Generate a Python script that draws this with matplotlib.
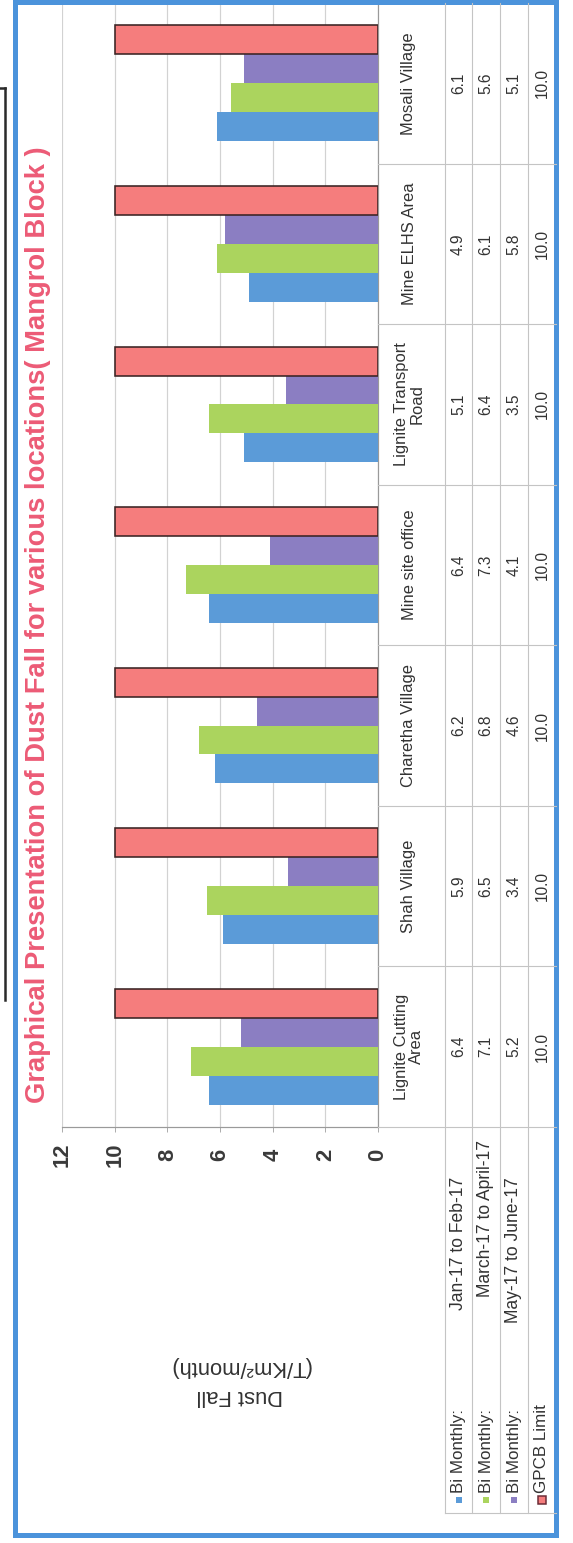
import matplotlib as mpl
mpl.use('agg')
import matplotlib.pyplot as plt
import numpy as np
from matplotlib.patches import Rectangle

plt.rcParams['font.family'] = ['Liberation Sans', 'DejaVu Sans']

# dust fall data (T/Km2/month) per monitoring location
locations = ['Lignite Cutting\nArea', 'Shah Village', 'Charetha Village', 'Mine site office',
             'Lignite Transport\nRoad', 'Mine ELHS Area', 'Mosali Village']
jan_feb = [6.4, 5.9, 6.2, 6.4, 5.1, 4.9, 6.1]
mar_apr = [7.1, 6.5, 6.8, 7.3, 6.4, 6.1, 5.6]
may_jun = [5.2, 3.4, 4.6, 4.1, 3.5, 5.8, 5.1]
gpcb_limit = [10.0, 10.0, 10.0, 10.0, 10.0, 10.0, 10.0]

row_names = ['Bi Monthly:', 'Bi Monthly:', 'Bi Monthly:', 'GPCB Limit']
row_periods = ['Jan-17 to Feb-17', 'March-17 to April-17', 'May-17 to June-17', '']
value_ticks = [0, 2, 4, 6, 8, 10, 12]

series = [jan_feb, mar_apr, may_jun, gpcb_limit]
colors = ['#5b9bd8', '#abd45e', '#8b7ec2', '#f57d7d']

# page is laid out sideways, so work in pixels
W, H = 573, 1543
DPI = 72
fig = plt.figure(figsize=(W / DPI, H / DPI), dpi=DPI)
fig.patch.set_facecolor('white')

x12, x0 = 62, 378          # value axis ends
ytop, ybot = 3, 1127       # category axis ends
rows = [378, 445, 472, 500, 528, 556]
table_bot = 1513
txt = '#333333'
grid = '#d2d2d2'

ax = fig.add_axes([x12 / W, 1 - ybot / H, (x0 - x12) / W, (ybot - ytop) / H])
ax.set_xlim(12, 0)
ax.set_ylim(-0.5, 6.5)

h = 0.18
pos = np.arange(len(locations))
for k, (vals, c) in enumerate(zip(series, colors)):
    if k == 3:
        ax.barh(pos + (k - 1.5) * h, vals, height=h, color=c, edgecolor='#3b2424', linewidth=1.6, zorder=3)
    else:
        ax.barh(pos + (k - 1.5) * h, vals, height=h, color=c, linewidth=0, zorder=3)

ax.set_xticks(value_ticks)
ax.xaxis.grid(True, color=grid, lw=1.2)
ax.set_axisbelow(True)
ax.tick_params(axis='x', direction='out', length=5, color='#9a9a9a', labelsize=22, pad=23, labelcolor='#3a3a3a')
plt.setp(ax.get_xticklabels(), rotation=90, va='center', ha='center', fontweight='bold')

ax.set_yticks(np.arange(-0.5, 7, 1))
ax.yaxis.tick_right()
ax.tick_params(axis='y', direction='out', length=5, color='#9a9a9a', labelright=False)
for s in ['top', 'left']:
    ax.spines[s].set_visible(False)
for s in ['right', 'bottom']:
    ax.spines[s].set_color('#9a9a9a')
    ax.spines[s].set_linewidth(1.2)

ax.set_xlabel('Dust Fall\n(T/Km\u00b2/month)', rotation=180, fontsize=22, color=txt,
              va='center', ha='center', linespacing=1.45)
ax.xaxis.set_label_coords((240 - x12) / (x0 - x12), (ybot - 1381) / (ybot - ytop))

# overlay in page pixels for the data table, frame and title
bg = fig.add_axes([0, 0, 1, 1], zorder=5)
bg.set_xlim(0, W)
bg.set_ylim(H, 0)
bg.axis('off')
bg.patch.set_alpha(0)


def ypix(v):
    return H - ax.transData.transform((0, v))[1]


line = dict(color='#c4c4c4', lw=1.1)
for xr in rows[1:5]:
    bg.plot([xr, xr], [ytop, table_bot], **line)
for b in np.arange(-0.5, 6.5, 1):
    bg.plot([x0, rows[-1]], [ypix(b), ypix(b)], **line)
bg.plot([rows[1], rows[-1]], [table_bot, table_bot], **line)

centers = [(rows[j] + rows[j + 1]) / 2 for j in range(1, 5)]
for i, name in enumerate(locations):
    yc = ypix(i)
    bg.text(409, yc, name, rotation=90, ha='center', va='center', multialignment='center',
            fontsize=16.5, color=txt, linespacing=1.05)
    for j, vals in enumerate(series):
        bg.text(centers[j], yc, f'{vals[i]:.1f}', rotation=90, ha='center', va='center',
                fontsize=15.5, color=txt)

# row headers with legend keys; period text is right-aligned to its own tab stop
period_end = [1177, 1140, 1177, 0]
for j in range(4):
    xc = centers[j]
    if j < 3:
        bg.add_patch(Rectangle((xc - 3, 1497), 6, 6, color=colors[j], lw=0))
    else:
        bg.add_patch(Rectangle((xc - 4, 1496), 8, 8, facecolor=colors[j], edgecolor='#6a2a35', lw=1.5))
    bg.text(xc, 1493, row_names[j], rotation=90, rotation_mode='anchor', ha='left', va='center',
            fontsize=17, color=txt)
    if row_periods[j]:
        bg.text(xc, period_end[j], row_periods[j], rotation=90, rotation_mode='anchor',
                ha='right', va='center', fontsize=17.5, color=txt)

# title
title = bg.text(38, 625, 'Graphical Presentation of Dust Fall for various locations( Mangrol Block )',
                rotation=90, ha='center', va='center', fontsize=20, fontweight='bold', color='#ec5b76')
fig.canvas.draw()
span = title.get_window_extent().height
title.set_fontsize(20 * 955 / span)

# chart border and the edge of the page underneath
bg.add_patch(Rectangle((15, 2), 541, 1533, fill=False, edgecolor='#4b93db', lw=5))
bg.plot([5, 5], [88, 1000], color='#2a2a2a', lw=2.5)
bg.plot([0, 5], [88, 88], color='#2a2a2a', lw=2.5)

fig.savefig('out.png', dpi=DPI)
